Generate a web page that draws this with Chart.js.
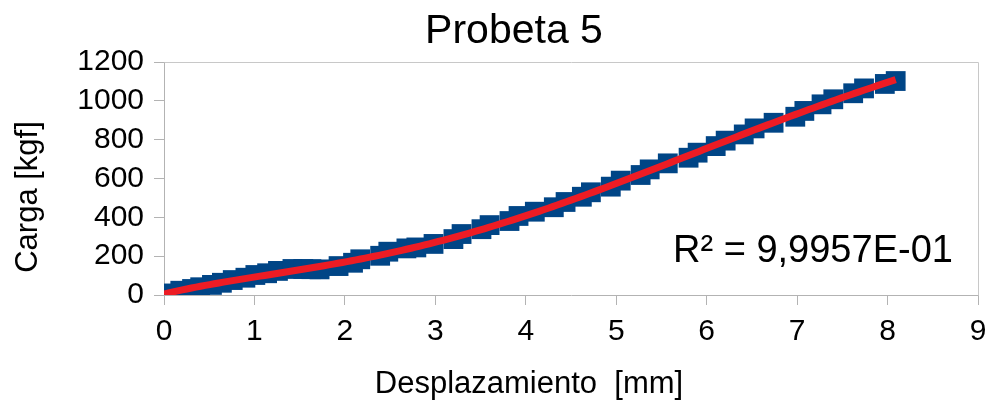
<!DOCTYPE html>
<html>
<head>
<meta charset="utf-8">
<script src="https://cdn.jsdelivr.net/npm/chart.js@4/dist/chart.umd.min.js"></script>
<style>
  html, body { margin: 0; padding: 0; background: #ffffff; }
  #wrap { width: 988px; height: 401px; }
</style>
</head>
<body>
<div id="wrap"><canvas id="c" width="988" height="401"></canvas></div>
<script>
const chartTitle = 'Probeta 5';
const xTitle = 'Desplazamiento  [mm]';
const yTitle = 'Carga [kgf]';
const r2Label = 'R² = 9,9957E-01';

const displacement = [0, 0.18, 0.31, 0.40, 0.53, 0.64, 0.76, 0.90, 1.01, 1.14, 1.26, 1.42, 1.54, 1.63, 1.72, 1.93, 2.09, 2.17, 2.39, 2.48, 2.68, 2.79, 2.98, 3.20, 3.29, 3.51, 3.60, 3.82, 3.92, 4.10, 4.31, 4.44, 4.62, 4.72, 4.94, 5.05, 5.27, 5.37, 5.57, 5.80, 5.90, 6.10, 6.21, 6.41, 6.53, 6.74, 6.98, 7.08, 7.27, 7.40, 7.62, 7.74, 7.97, 8.09];
const load = [8, 22, 31, 40, 52, 63, 77, 89, 103, 112, 124, 134, 134, 133, 132, 149, 166, 184, 202, 223, 240, 245, 263, 288, 314, 339, 360, 381, 407, 429, 452, 479, 506, 529, 558, 589, 618, 647, 678, 707, 733, 767, 795, 827, 858, 887, 918, 948, 982, 1008, 1039, 1064, 1087, 1102];

const xTicks = [0, 1, 2, 3, 4, 5, 6, 7, 8, 9];
const yTicks = [0, 200, 400, 600, 800, 1000, 1200];
const trendDegree = 5;

// polynomial least-squares trend line computed from the data
function polyFit(xs, ys, deg) {
  const n = deg + 1;
  const A = Array.from({length: n}, () => new Array(n + 1).fill(0));
  for (let k = 0; k < xs.length; k++) {
    for (let i = 0; i < n; i++) {
      for (let j = 0; j < n; j++) A[i][j] += Math.pow(xs[k], i + j);
      A[i][n] += ys[k] * Math.pow(xs[k], i);
    }
  }
  for (let i = 0; i < n; i++) {
    let p = i;
    for (let r = i + 1; r < n; r++) if (Math.abs(A[r][i]) > Math.abs(A[p][i])) p = r;
    [A[i], A[p]] = [A[p], A[i]];
    for (let r = 0; r < n; r++) {
      if (r === i) continue;
      const f = A[r][i] / A[i][i];
      for (let c = i; c <= n; c++) A[r][c] -= f * A[i][c];
    }
  }
  return A.map((row, i) => row[n] / row[i]);
}
const coef = polyFit(displacement, load, trendDegree);
const xMin = Math.min(...displacement), xMax = Math.max(...displacement);
const trend = [];
for (let i = 0; i <= 160; i++) {
  const x = xMin + (xMax - xMin) * i / 160;
  trend.push({x, y: coef.reduce((s, c, k) => s + c * Math.pow(x, k), 0)});
}

const FONT = "'Liberation Sans', Arial, sans-serif";
const GRAY = '#b3b3b3';

const textPlugin = {
  id: 'texts',
  afterDraw(chart) {
    const ctx = chart.ctx;
    const a = chart.chartArea;
    ctx.save();
    ctx.strokeStyle = '#c8c8c8';
    ctx.lineWidth = 1;
    ctx.beginPath();
    ctx.moveTo(Math.round(a.left) + 0.5, Math.round(a.top) + 0.5);
    ctx.lineTo(Math.round(a.right) + 0.5, Math.round(a.top) + 0.5);
    ctx.lineTo(Math.round(a.right) + 0.5, Math.round(a.bottom) + 0.5);
    ctx.stroke();
    ctx.fillStyle = '#000000';
    ctx.textBaseline = 'alphabetic';
    ctx.font = '41px ' + FONT;
    ctx.textAlign = 'center';
    ctx.fillText(chartTitle, 514, 43);
    ctx.font = '31px ' + FONT;
    ctx.fillText(xTitle, 529, 393);
    ctx.save();
    ctx.translate(37, 197);
    ctx.rotate(-Math.PI / 2);
    ctx.fillText(yTitle, 0, 0);
    ctx.restore();
    ctx.font = '38px ' + FONT;
    ctx.textAlign = 'left';
    ctx.fillText(r2Label, 673, 262);
    ctx.restore();
  }
};

new Chart(document.getElementById('c'), {
  type: 'scatter',
  data: {
    datasets: [
      {
        label: 'Carga',
        data: displacement.map((x, i) => ({x, y: load[i]})),
        pointStyle: 'rect',
        pointRadius: 14,
        pointBorderWidth: 0,
        backgroundColor: '#004586',
        borderColor: '#004586',
        order: 1
      },
      {
        label: 'Tendencia',
        data: trend,
        type: 'line',
        showLine: true,
        pointRadius: 0,
        borderColor: '#ed1c24',
        borderWidth: 7,
        fill: false,
        tension: 0,
        order: 0
      }
    ]
  },
  options: {
    responsive: false,
    animation: false,
    devicePixelRatio: 1,
    layout: { autoPadding: false, padding: { top: 62, right: 10, left: 0, bottom: 0 } },
    plugins: {
      legend: { display: false },
      tooltip: { enabled: false },
      title: { display: false }
    },
    scales: {
      x: {
        type: 'linear',
        min: 0, max: 9,
        afterBuildTicks: s => { s.ticks = xTicks.map(v => ({value: v})); },
        afterFit: s => { s.height = 106; s.paddingLeft = 0; s.paddingRight = 0; },
        grid: { drawOnChartArea: false, drawTicks: true, tickLength: 10, color: GRAY },
        border: { color: GRAY, width: 1 },
        ticks: { font: { family: FONT, size: 30 }, color: '#000000', padding: 9, maxRotation: 0,
                 autoSkip: false, callback: v => String(v) }
      },
      y: {
        type: 'linear',
        min: 0, max: 1200,
        afterBuildTicks: s => { s.ticks = yTicks.map(v => ({value: v})); },
        afterFit: s => { s.width = 164; s.paddingTop = 0; s.paddingBottom = 0; },
        grid: { drawOnChartArea: false, drawTicks: true, tickLength: 10, color: GRAY },
        border: { color: GRAY, width: 1 },
        ticks: { font: { family: FONT, size: 30 }, color: '#000000', padding: 10,
                 autoSkip: false, callback: v => String(v) }
      }
    }
  },
  plugins: [textPlugin]
});
</script>
</body>
</html>
